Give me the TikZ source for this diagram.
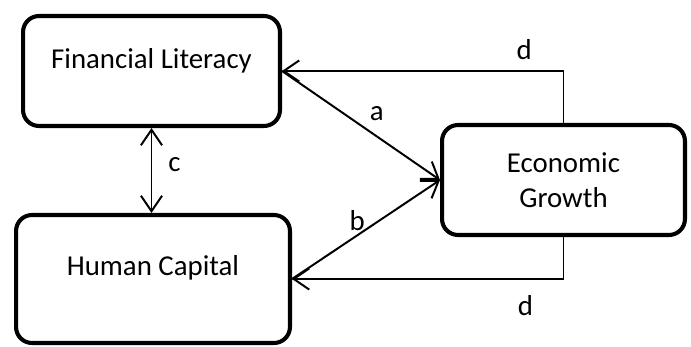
\documentclass[tikz,border=0pt]{standalone}
\usepackage{fontspec}
\setmainfont{Carlito}
\usetikzlibrary{arrows.meta}
\begin{document}
\begin{tikzpicture}[x=0.025cm, y=-0.025cm,
    >={Straight Barb[length=11pt, width=15pt, line width=1.4pt]},
    font=\fontsize{20.5}{24.5}\selectfont,
    box/.style={draw, line width=2.9pt, rounded corners=0.4cm, align=center, inner sep=0pt},
    link/.style={line width=1.4pt}]
\useasboundingbox (0,0) rectangle (691,347);
\node[box, minimum width=261*0.025cm-2.9pt, minimum height=110*0.025cm, text depth=18pt] (fin) at (151.5,71) {Financial Literacy};
\node[box, minimum width=278*0.025cm-2.9pt, minimum height=128*0.025cm, text depth=19pt] (hum) at (153,279) {Human Capital};
\node[box, minimum width=247*0.025cm-2.9pt, minimum height=110*0.025cm] (eco) at (563.5,180) {Economic\\Growth};

\draw[link, <->] (fin.south) -- (fin.south |- hum.north) node[pos=.43, right=8pt]{c};
\draw[link, ->] (fin.east) -- (eco.west) node[pos=.6, above=7pt]{a};
\draw[link, ->] (hum.east) -- (eco.west) node[pos=.44, above=-1pt]{b};
\draw[link, ->] (eco.north) |- (fin.east) node[pos=.57, above=4pt]{d};
\draw[link, ->] (eco.south) |- (hum.east) node[pos=.57, below=8pt]{d};
\end{tikzpicture}
\end{document}
